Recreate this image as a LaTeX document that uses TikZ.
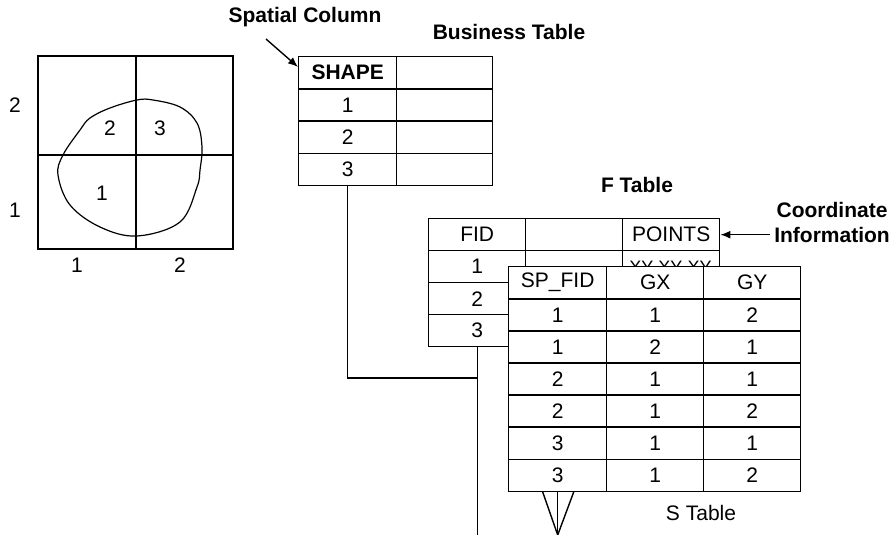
\documentclass[tikz,border=0pt]{standalone}
\usepackage{fontspec}
\setmainfont{Liberation Sans}
\usetikzlibrary{arrows.meta}

\begin{document}
\begin{tikzpicture}[x=1pt, y=-1pt, line width=1.4pt, every node/.style={font=\fontsize{21}{25}\selectfont}, >={Latex[length=10pt, width=8pt]},
	cell/.style={draw, minimum height=32pt, inner sep=0pt, anchor=north west},
	scell/.style={cell, fill=white, minimum width=97pt},
	lbl/.style={font=\fontsize{21}{25}\selectfont\bfseries}]
	\useasboundingbox (0,0) rectangle (894,535);
	% grid with the shape
	\draw (38,56) rectangle (233,249); \draw (136,56) -- (136,249); \draw (38,155) -- (233,155);
	\draw[line width=1.2pt] plot[smooth cycle, tension=0.6] coordinates {(137,100) (153,100) (180,107) (197,123) (202,147) (200,170) (197,187) (180,222) (137,236) (100,227) (70,205) (58,175) (63,155) (80,130) (90,118) (110,108)};
	\node (gy2) at (15,105) {2}; \node (gy1) at (15,210) {1}; \node (gx1) at (77,265) {1}; \node (gx2) at (180,265) {2};
	\node (c2) at (110,128) {2}; \node (c3) at (160,128) {3}; \node (c1) at (102,193) {1};
	% business table
	\node[lbl] (spatial) at (305,17) {Spatial Column};
	\node[lbl] (btitle) at (509,32) {Business Table};
	\node[cell, minimum width=98pt, font=\fontsize{21}{25}\selectfont\bfseries] (b0) at (298,56) {SHAPE};
	\foreach \n [count=\i] in {1,2,3} \node[cell, minimum width=98pt] (b\i) at (298,56+32.3*\i) {\n};
	\foreach \i in {0,...,3} \node[cell, minimum width=96pt] (bb\i) at (396,56+32.3*\i) {};
	\coordinate (sptail) at (266,39);
	\draw[->] (sptail) -- ([yshift=-11pt]b0.north west);
	% F table
	\node[lbl] (ftitle) at (637,185) {F Table};
	\node[cell, minimum width=97pt] (f0) at (428,218) {FID};
	\foreach \n [count=\i] in {1,2,3} \node[cell, minimum width=97pt] (f\i) at (428,218+32*\i) {\n};
	\foreach \i in {0,...,3} \node[cell, minimum width=97pt] (fb\i) at (525,218+32*\i) {};
	\node[cell, minimum width=97pt] (fp0) at (622,218) {POINTS};
	\node[cell, minimum width=97pt] (fp1) at (622,250) {};
	\begin{scope}
		\clip (622,250) rectangle (719,266);
		\node[font=\fontsize{18}{20}\selectfont] (xy) at (670.5,267) {XY XY XY};
	\end{scope}
	\node[lbl, align=center] (cinfo) at (832,222) {Coordinate\\Information};
	\draw[->] (cinfo.west |- fp0.east) -- (fp0.east);
	% links
	\coordinate (jn) at (f3.south |- 0,378);
	\coordinate (fend) at (f3.south |- 0,535);
	\draw (b3.south) |- (jn);
	\draw (f3.south) -- (fend);
	% S table
	\node[scell, minimum width=98pt] (s0) at (508,266) {SP\_FID};
	\node[scell] (sx0) at (606,266) {GX};
	\node[scell] (sy0) at (703,266) {GY};
	\foreach \a/\b/\c [count=\i] in {1/1/2,1/2/1,2/1/1,2/1/2,3/1/1,3/1/2} {
		\node[scell, minimum width=98pt] (s\i) at (508,266+32.1*\i) {\a};
		\node[scell] (sx\i) at (606,266+32.1*\i) {\b};
		\node[scell] (sy\i) at (703,266+32.1*\i) {\c};
	}
	\node (stitle) at (701,513) {S Table};
	\coordinate (cf) at (s6.south |- 0,535);
	\draw (cf) -- ([xshift=-15pt]s6.south); \draw (cf) -- (s6.south); \draw (cf) -- ([xshift=16pt]s6.south);
\end{tikzpicture}
\end{document}
